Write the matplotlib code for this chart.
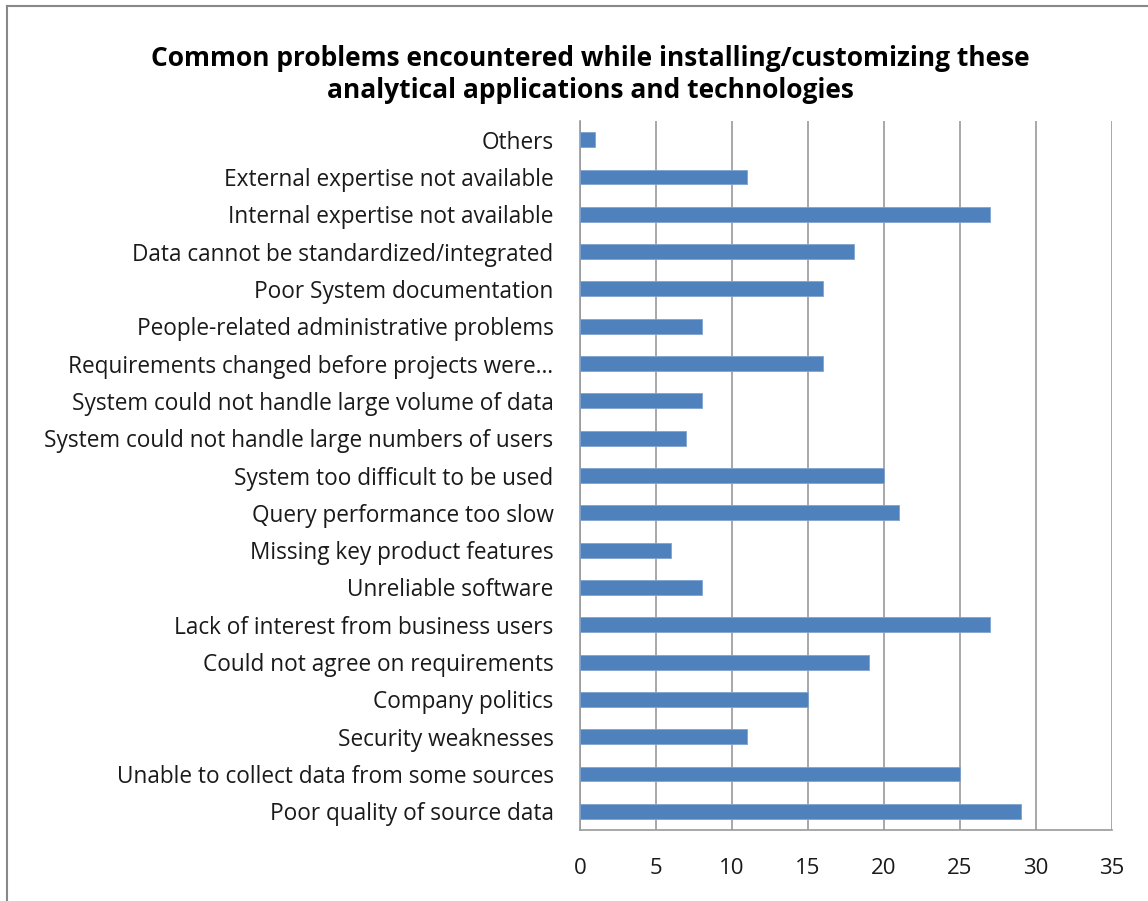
import matplotlib.pyplot as plt
from matplotlib.lines import Line2D

categories = [
    "Others",
    "External expertise not available",
    "Internal expertise not available",
    "Data cannot be standardized/integrated",
    "Poor System documentation",
    "People-related administrative problems",
    "Requirements changed before projects were\u2026",
    "System could not handle large volume of data",
    "System could not handle large numbers of users",
    "System too difficult to be used",
    "Query performance too slow",
    "Missing key product features",
    "Unreliable software",
    "Lack of interest from business users",
    "Could not agree on requirements",
    "Company politics",
    "Security weaknesses",
    "Unable to collect data from some sources",
    "Poor quality of source data",
]
values = [1, 11, 27, 18, 16, 8, 16, 8, 7, 20, 21, 6, 8, 27, 19, 15, 11, 25, 29]
xticks = [0, 5, 10, 15, 20, 25, 30, 35]

plt.rcParams['font.family'] = ['Open Sans', 'DejaVu Sans']

fig = plt.figure(figsize=(11.48, 9.01), dpi=100)
ax = fig.add_axes([0.5052, 0.0788, 0.4634, 0.7869])

pos = list(range(len(categories)))[::-1]
ax.barh(pos, values, height=0.4, color='#4F81BD', edgecolor='#7FA3D0', linewidth=0.6, zorder=3)

ax.set_xlim(0, 35)
ax.set_ylim(-0.5, len(categories) - 0.5)
ax.set_xticks(xticks)
ax.set_yticks(pos)
ax.set_yticklabels(categories, fontsize=16.3, color='#1a1a1a')
ax.tick_params(axis='x', length=0, pad=20, labelsize=16, labelcolor='#1a1a1a')
ax.tick_params(axis='y', length=0, pad=19)
ax.grid(axis='x', color='#9a9a9a', linewidth=1.2, zorder=0)
for s in ['top', 'right']:
    ax.spines[s].set_visible(False)
for s in ['left', 'bottom']:
    ax.spines[s].set_color('#9a9a9a')
    ax.spines[s].set_linewidth(1.2)

fig.text(0.514, 0.917, "Common problems encountered while installing/customizing these\nanalytical applications and technologies",
         ha='center', va='center', fontsize=19, fontweight='bold', linespacing=1.25)

# outer chart frame (left and top edges)
fig.add_artist(Line2D([0.0065, 0.0065], [0, 0.9935], color='#888888', linewidth=1.5))
fig.add_artist(Line2D([0.0065, 1.0], [0.9935, 0.9935], color='#888888', linewidth=1.5))

fig.savefig('out.png', dpi=100)
